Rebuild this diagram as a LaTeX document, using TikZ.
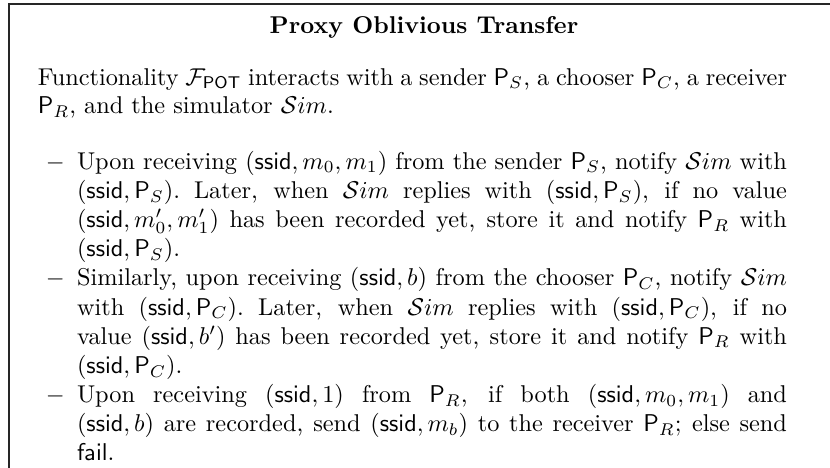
\documentclass[tikz,border=0pt]{standalone}
\newcommand\jline[2]{\makebox[#1][s]{#2}}
\newcommand\Sim{\mathcal{S}im}
\newcommand\ssid{\mathsf{ssid}}
\tikzset{
  txt/.style={inner sep=0pt, outer sep=0pt, anchor=base west},
  ttl/.style={inner sep=0pt, outer sep=0pt, anchor=base, font=\bfseries},
  frame/.style={line width=0.7pt, draw=black!85}
}
\begin{document}
\begin{tikzpicture}[x=1pt,y=-1pt]
\useasboundingbox (0,0) rectangle (341.6,192.6);
\coordinate (bl) at (3.83,192.6);
\coordinate (tl) at (3.83,1.77);
\coordinate (tr) at (341.6,1.77);
\draw[frame] (bl) -- (tl) -- (tr);
\node[ttl] (title) at (174.5,13.6) {Proxy Oblivious Transfer};
% intro
\node[txt] (i1) at (15.6,35.0) {\jline{308.3pt}{Functionality $\mathcal{F}_{\mathsf{POT}}$ interacts with a sender $\mathsf{P}_S$, a chooser $\mathsf{P}_C$, a receiver}};
\node[txt] (i2) at (15.6,46.9) {$\mathsf{P}_R$, and the simulator $\Sim$.};
% item 1
\node[txt] (d1) at (18.9,69.7) {$-$};
\node[txt] (a1) at (31.7,69.7) {\jline{292.2pt}{Upon receiving $(\ssid, m_0, m_1)$ from the sender $\mathsf{P}_S$, notify $\Sim$ with}};
\node[txt] (a2) at (31.7,81.7) {\jline{292.2pt}{$(\ssid, \mathsf{P}_S)$.\ Later, when $\Sim$ replies with $(\ssid, \mathsf{P}_S)$, if no value}};
\node[txt] (a3) at (31.7,93.7) {\jline{292.2pt}{$(\ssid, m_0', m_1')$ has been recorded yet, store it and notify $\mathsf{P}_R$ with}};
\node[txt] (a4) at (31.7,105.7) {$(\ssid, \mathsf{P}_S)$.};
% item 2
\node[txt] (d2) at (18.9,117.7) {$-$};
\node[txt] (b1) at (31.7,117.7) {\jline{292.2pt}{Similarly, upon receiving $(\ssid, b)$ from the chooser $\mathsf{P}_C$, notify $\Sim$}};
\node[txt] (b2) at (31.7,129.7) {\jline{292.2pt}{with $(\ssid, \mathsf{P}_C)$.\ Later, when $\Sim$ replies with $(\ssid, \mathsf{P}_C)$, if no}};
\node[txt] (b3) at (31.7,141.7) {\jline{292.2pt}{value $(\ssid, b')$ has been recorded yet, store it and notify $\mathsf{P}_R$ with}};
\node[txt] (b4) at (31.7,153.7) {$(\ssid, \mathsf{P}_C)$.};
% item 3
\node[txt] (d3) at (18.9,165.7) {$-$};
\node[txt] (c1) at (31.7,165.7) {\jline{292.2pt}{Upon receiving $(\ssid, 1)$ from $\mathsf{P}_R$, if both $(\ssid, m_0, m_1)$ and}};
\node[txt] (c2) at (31.7,177.7) {\jline{292.2pt}{$(\ssid, b)$ are recorded, send $(\ssid, m_b)$ to the receiver $\mathsf{P}_R$; else send}};
\node[txt] (c3) at (31.7,189.7) {$\mathsf{fail}$.};
\end{tikzpicture}
\end{document}
